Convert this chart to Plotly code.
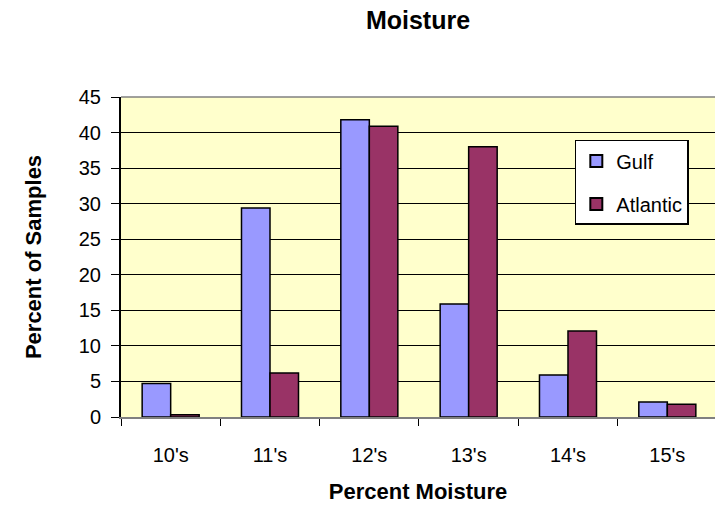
import plotly.graph_objects as go

categories = ["10's", "11's", "12's", "13's", "14's", "15's"]
gulf = [4.7, 29.4, 41.8, 15.9, 5.9, 2.1]
atlantic = [0.3, 6.2, 40.9, 38.0, 12.1, 1.8]
y_ticks = [0, 5, 10, 15, 20, 25, 30, 35, 40, 45]

FONT = "Liberation Sans, Arial, sans-serif"

fig = go.Figure()
fig.add_trace(go.Bar(
    x=categories, y=gulf, name="Gulf", legendgroup="g",
    marker=dict(color="#9999FF", line=dict(color="black", width=1.5)),
))
fig.add_trace(go.Bar(
    x=categories, y=atlantic, name="Atlantic", legendgroup="a",
    marker=dict(color="#993366", line=dict(color="black", width=1.5)),
))

fig.update_layout(
    width=715, height=507,
    margin=dict(l=121, r=0, t=97, b=90),
    paper_bgcolor="white",
    plot_bgcolor="#FFFFCC",
    barmode="group", bargap=0.426, bargroupgap=0,
    font=dict(family=FONT, size=20, color="black"),
    title=dict(text="<b>Moisture</b>", x=0.5, xref="paper", xanchor="center",
               y=0.9606, yref="container", yanchor="middle",
               font=dict(size=25)),
    legend=dict(x=0.764, y=0.866, xanchor="left", yanchor="top",
                bgcolor="white", bordercolor="black", borderwidth=1.5,
                tracegroupgap=14, itemsizing="constant", itemwidth=30,
                font=dict(size=20)),
    showlegend=True,
)

fig.update_xaxes(
    range=[-0.5, 5.48], tickson="boundaries", ticks="outside", ticklen=7,
    tickcolor="black", showline=True, linecolor="#808080", linewidth=1.5,
    showgrid=False, ticklabelstandoff=19, tickfont=dict(size=20),
    title=dict(text="<b>Percent Moisture</b>", standoff=19, font=dict(size=22)),
)
fig.update_yaxes(
    range=[0, 45], tickvals=y_ticks, ticks="outside", ticklen=8,
    tickcolor="black", showline=True, linecolor="black", linewidth=2,
    showgrid=True, gridcolor="black", gridwidth=1, zeroline=False,
    tickfont=dict(size=20), ticklabelstandoff=6,
    title=dict(text="<b>Percent of Samples</b>", standoff=31, font=dict(size=22)),
)

# light top border of the plotting area
fig.add_shape(type="line", xref="paper", yref="paper", x0=0, x1=1, y0=1, y1=1,
              line=dict(color="#808080", width=1.5))

fig.write_html("out.html")
